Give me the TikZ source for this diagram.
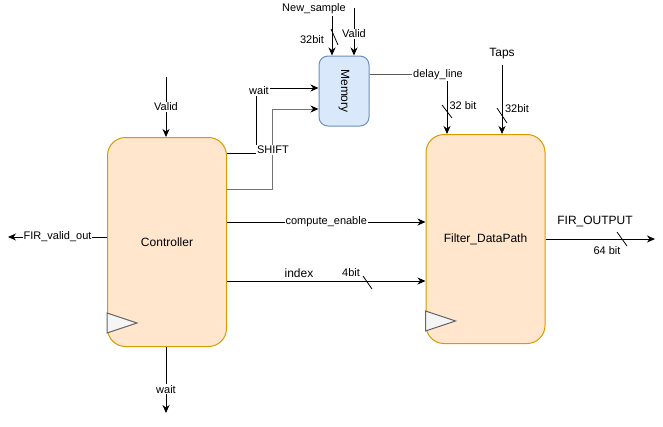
\documentclass[tikz,border=0pt]{standalone}
\usepackage{fontspec}
\setmainfont{Liberation Sans}
\usetikzlibrary{arrows.meta,positioning}
\definecolor{UnitFill}{HTML}{FFE6CC}
\definecolor{UnitLine}{HTML}{D79B00}
\definecolor{MemFill}{HTML}{DAE8FC}
\definecolor{MemLine}{HTML}{6C8EBF}
\definecolor{ClkFill}{HTML}{F5F5F5}
\definecolor{ClkLine}{HTML}{666666}

\begin{document}
\begin{tikzpicture}[x=1pt,y=-1pt,
  unit/.style={draw=UnitLine,fill=UnitFill,rounded corners=18pt,line width=1pt,
    minimum width=119pt,minimum height=209pt,font=\fontsize{12}{14}\selectfont},
  mem/.style={draw=MemLine,fill=MemFill,rounded corners=9pt,line width=1pt,
    minimum width=50pt,minimum height=70pt},
  sig/.style={-{Stealth[length=8pt,width=7pt,inset=2.5pt,color=black]},line width=1pt},
  lbl/.style={font=\fontsize{11}{13}\selectfont,fill=white,inner sep=1pt},
  txt/.style={font=\fontsize{11}{13}\selectfont,inner sep=1pt},
  big/.style={font=\fontsize{12}{14}\selectfont,inner sep=1pt},
  clk/.style={draw=ClkLine,fill=ClkFill,line width=1pt},
  tick/.style={line width=0.8pt}]

\useasboundingbox (0,0) rectangle (663,426);

\node[unit] (ctrl) at (167,242) {Controller};
\node[unit] (filt) at (485.5,239) {Filter\_DataPath};
\node[mem] (mem) at (344,91) {};
\node[rotate=-90,font=\fontsize{12}{14}\selectfont] at (mem.center) {Memory};

\draw[clk] (ctrl.south west) ++(0,-34) -- ++(30,10) -- ++(-30,10) -- cycle;
\draw[clk] (filt.south west) ++(0,-33) -- ++(30,10) -- ++(-30,10) -- cycle;

% controller
\coordinate (validC) at (166,77);
\coordinate (waitOut) at (166,413);
\coordinate (validOut) at (8,237);
\draw[sig] (validC) -- (validC |- ctrl.north) node[lbl,midway] {Valid};
\draw[sig] (validC |- ctrl.south) -- (waitOut) node[lbl,pos=0.64] {wait};
\draw[sig] (ctrl.west |- validOut) -- (validOut) node[lbl,midway] {FIR\_valid\_out};

% controller to datapath
\draw[sig] (ctrl.east |- 0,222) -- (filt.west |- 0,222) node[lbl,midway] {compute\_enable};
\draw[sig] (ctrl.east |- 0,281) -- (filt.west |- 0,281);
\node[big] (idx) at (299,273) {index};
\node[txt] (idxw) at (351,273) {4bit};
\draw[tick] (363,276) -- (372,289);

% controller to memory
\draw[sig] (ctrl.east |- 0,153) -- (256,153) -- (256,88) -- (mem.west |- 0,88);
\node[lbl] at (259,91) {wait};
\draw[sig,draw=black!55] (ctrl.east |- 0,189) -- (272,189) -- (272,109) -- (mem.west |- 0,109);
\node[lbl] at (273,150) {SHIFT};

% memory inputs
\node[txt] (newS) at (314,9) {New\_sample};
\coordinate (nsTop) at (332,16);
\draw[sig] (nsTop) -- (nsTop |- mem.north);
\draw[tick] (331,29) -- (338,45);
\node[txt] at (312,40) {32bit};
\coordinate (vmTop) at (354,8);
\draw[sig] (vmTop) -- (vmTop |- mem.north) node[lbl,pos=0.54] {Valid};

% memory to datapath
\coordinate (dlCorner) at (447,74);
\draw[line width=1pt,draw=black!65] (mem.east |- dlCorner) -- (dlCorner);
\draw[sig] (dlCorner) -- (dlCorner |- filt.north);
\node[lbl] at (438,75) {delay\_line};
\draw[tick] (442,105) -- (452,118);
\node[txt] at (463,106) {32 bit};

% taps
\node[big] (taps) at (502,54) {Taps};
\draw[sig] (taps.south) ++(0,4) -- (taps.south |- filt.north);
\draw[tick] (497,108) -- (507,123);
\node[txt] at (517,109) {32bit};

% output
\coordinate (outEnd) at (655,239);
\draw[sig] (filt.east |- outEnd) -- (outEnd);
\node[big] at (595,221) {FIR\_OUTPUT};
\draw[tick] (617,232) -- (627,246);
\node[txt] at (607,251) {64 bit};

\end{tikzpicture}
\end{document}
